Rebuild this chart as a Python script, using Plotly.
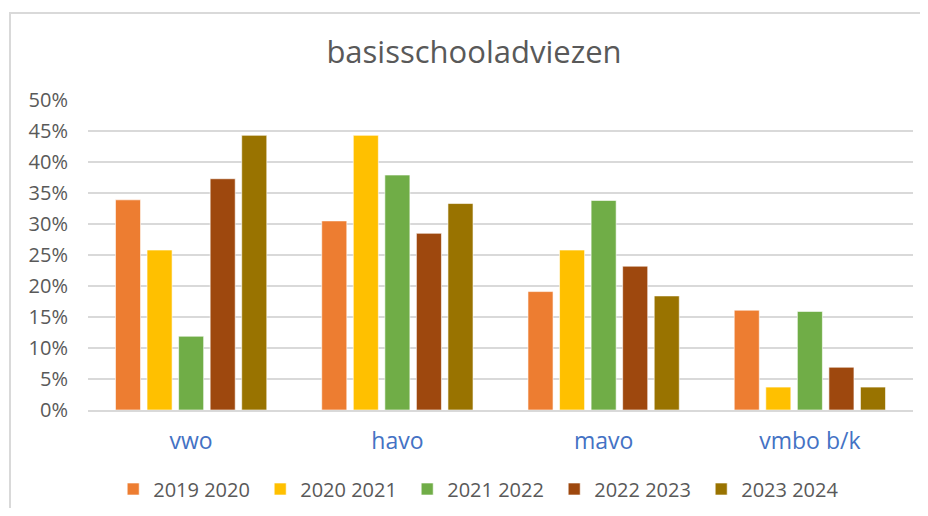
import plotly.graph_objects as go

categories = ["vwo", "havo", "mavo", "vmbo b/k"]
series_names = ["2019 2020", "2020 2021", "2021 2022", "2022 2023", "2023 2024"]
values_2019_2020 = [0.339, 0.305, 0.191, 0.161]
values_2020_2021 = [0.258, 0.443, 0.258, 0.037]
values_2021_2022 = [0.119, 0.379, 0.338, 0.159]
values_2022_2023 = [0.373, 0.285, 0.232, 0.069]
values_2023_2024 = [0.443, 0.333, 0.184, 0.037]
colors = ["#ED7D31", "#FFC000", "#70AD47", "#9E480E", "#997300"]
y_tick_values = [0, 0.05, 0.10, 0.15, 0.20, 0.25, 0.30, 0.35, 0.40, 0.45, 0.50]
y_tick_labels = ["0%", "5%", "10%", "15%", "20%", "25%", "30%", "35%", "40%", "45%", "50%"]

all_values = [values_2019_2020, values_2020_2021, values_2021_2022, values_2022_2023, values_2023_2024]

fig = go.Figure()
for name, vals, col in zip(series_names, all_values, colors):
    fig.add_trace(go.Bar(
        x=categories, y=vals, name=name,
        marker=dict(color=col, line=dict(color="rgba(255,255,255,0.6)", width=1)),
    ))

FONT = "Open Sans"
W, H = 912, 500
fig.update_layout(
    width=W, height=H,
    paper_bgcolor="white", plot_bgcolor="white",
    margin=dict(l=80, r=7, t=92, b=98),
    barmode="group", bargap=0.235, bargroupgap=0.206,
    font=dict(family=FONT, color="#595959"),
    title=dict(text="basisschooladviezen", x=466 / W, xref="container", xanchor="center",
               y=1 - 44 / H, yref="container", yanchor="middle",
               font=dict(size=31, color="#595959", family=FONT)),
    showlegend=True,
    legend=dict(orientation="h", xref="container", yref="container",
                x=472.7 / W, xanchor="center", y=1 - 481 / H, yanchor="middle",
                font=dict(size=20, color="#595959", family=FONT),
                itemwidth=30, tracegroupgap=0, traceorder="normal",
                entrywidth=102, entrywidthmode="pixels"),
    xaxis=dict(showgrid=False, showline=True, linecolor="#D9D9D9", linewidth=1.5,
               tickfont=dict(size=23, color="#4472C4", family=FONT), ticks="",
               ticklabelstandoff=10, automargin=False),
    yaxis=dict(range=[0, 0.5], tickvals=y_tick_values, ticktext=y_tick_labels,
               showgrid=True, gridcolor="#D9D9D9", gridwidth=1.5, zeroline=False,
               tickfont=dict(size=20, color="#595959", family=FONT), ticks="",
               ticklabelstandoff=19, automargin=False),
    shapes=[dict(type="rect", xref="paper", yref="paper",
                 x0=(2 - 80) / 825, x1=(930 - 80) / 825,
                 y0=(402 - 520) / 310, y1=(402 - 5) / 310,
                 line=dict(color="#D9D9D9", width=2), fillcolor="rgba(0,0,0,0)", layer="below")],
)

fig.write_html("out.html")
